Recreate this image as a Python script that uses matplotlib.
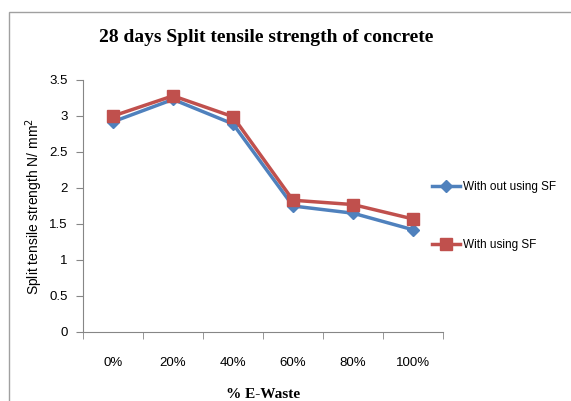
import matplotlib.pyplot as plt
from matplotlib.patches import Rectangle

categories = ["0%", "20%", "40%", "60%", "80%", "100%"]
without_sf = [2.92, 3.23, 2.89, 1.75, 1.65, 1.42]
with_sf = [3.0, 3.28, 2.99, 1.83, 1.77, 1.57]

fig = plt.figure(figsize=(5.71, 4.01), dpi=100)
ax = fig.add_axes([83 / 571, 1 - 332 / 401, 360 / 571, 252 / 401])

# chart frame (cut off at right/bottom like the screenshot)
fig.patches.append(Rectangle((9 / 571, -0.1), 1.2, 1 - 12 / 401 + 0.1,
                             transform=fig.transFigure, fill=False,
                             edgecolor="#a0a0a0", linewidth=1))

x = range(len(categories))
ax.plot(x, without_sf, color="#4F81BD", marker="D", markersize=6,
        linewidth=2.5, label="With out using SF")
ax.plot(x, with_sf, color="#C0504D", marker="s", markersize=8,
        linewidth=2.5, label="With using SF")

ax.set_xlim(-0.5, 5.5)
ax.set_ylim(0, 3.5)
ax.set_yticks([0, 0.5, 1, 1.5, 2, 2.5, 3, 3.5])
ax.set_yticklabels(["0", "0.5", "1", "1.5", "2", "2.5", "3", "3.5"])
ax.set_xticks(list(x))
ax.set_xticklabels(categories)
ax.set_xticks([i + 0.5 for i in range(-1, 6)], minor=True)
ax.tick_params(axis="x", which="major", length=0, pad=18, labelsize=9.5)
ax.tick_params(axis="x", which="minor", length=5, color="#868686")
ax.tick_params(axis="y", length=5, color="#868686", labelsize=9.5, pad=6)
for lbl in ax.get_xticklabels() + ax.get_yticklabels():
    lbl.set_fontfamily("Liberation Sans")

for s in ["top", "right"]:
    ax.spines[s].set_visible(False)
for s in ["left", "bottom"]:
    ax.spines[s].set_color("#868686")

ax.set_ylabel("Split tensile strength N/ mm$^2$", fontsize=10,
              fontfamily="Liberation Sans", labelpad=3)
ax.set_xlabel("% E-Waste", fontsize=11, fontweight="bold",
              fontfamily="Liberation Serif", labelpad=14)
fig.text(266 / 571, 1 - 38 / 401, "28 days Split tensile strength of concrete",
         ha="center", va="center", fontsize=14, fontweight="bold",
         fontfamily="Liberation Serif")

leg = ax.legend(loc="center left", bbox_to_anchor=(0.94, 0.46), frameon=False,
                labelspacing=3.9, handlelength=2.4, handletextpad=0.2,
                prop={"family": "Liberation Sans", "size": 8.5})

fig.savefig("out.png", dpi=100)
